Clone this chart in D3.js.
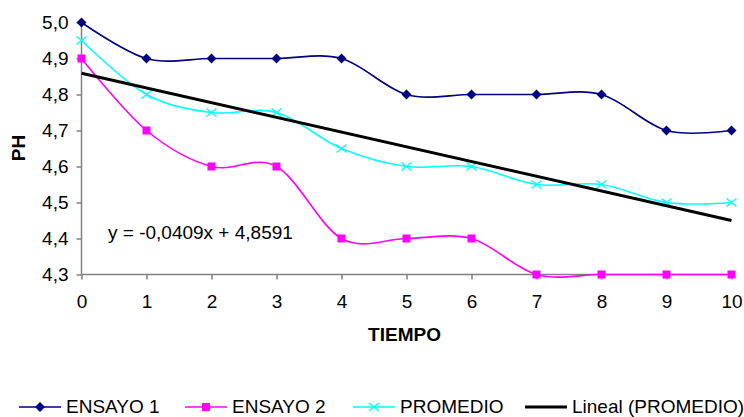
<!DOCTYPE html>
<html><head><meta charset="utf-8">
<script src="https://cdn.jsdelivr.net/npm/d3@7"></script>
<style>body{margin:0;background:#fff}svg{display:block;font-family:"Liberation Sans",Arial,sans-serif}</style>
</head><body>
<svg id="c" width="744" height="417"></svg>
<script>
const tiempo = [0,1,2,3,4,5,6,7,8,9,10];
const ensayo1 = [5.0,4.9,4.9,4.9,4.9,4.8,4.8,4.8,4.8,4.7,4.7];
const ensayo2 = [4.9,4.7,4.6,4.6,4.4,4.4,4.4,4.3,4.3,4.3,4.3];
const promedio = [4.95,4.8,4.75,4.75,4.65,4.6,4.6,4.55,4.55,4.5,4.5];
const trendSlope = -0.0409, trendIntercept = 4.8591;
const yTicks = [4.3,4.4,4.5,4.6,4.7,4.8,4.9,5.0];
const xTicks = [0,1,2,3,4,5,6,7,8,9,10];
const seriesNames = ["ENSAYO 1","ENSAYO 2","PROMEDIO","Lineal (PROMEDIO)"];

const FS = 19;
const svg = d3.select("#c");
const x = d3.scaleLinear().domain([0,10]).range([81.5,731.5]);
const y = d3.scaleLinear().domain([4.3,5.0]).range([274.5,22.5]);
const fmt = v => v.toFixed(1).replace(".", ",");

// axes
const ya = svg.append("g").attr("transform","translate(81.5,0)")
  .call(d3.axisLeft(y).tickValues(yTicks).tickFormat(fmt).tickSize(5).tickPadding(8));
const xa = svg.append("g").attr("transform","translate(0,274.5)")
  .call(d3.axisBottom(x).tickValues(xTicks).tickFormat(d=>d).tickSize(5));
[ya,xa].forEach(a=>{
  a.selectAll("path.domain").attr("stroke","#808080").attr("stroke-width",1.5);
  a.selectAll(".tick line").attr("stroke","#808080").attr("stroke-width",1.5);
  a.selectAll("text").attr("font-size",FS).attr("fill","#000").attr("font-family","Liberation Sans, Arial, sans-serif");
});
xa.selectAll(".tick text").attr("y",33.5).attr("dy",0);
ya.select("path.domain").attr("d","M0,22.5V274.5");
xa.select("path.domain").attr("d","M81.5,0H731.5");

const line = d3.line().x((d,i)=>x(tiempo[i])).y(d=>y(d)).curve(d3.curveCardinal.tension(0));

function drawSeries(vals,color,marker){
  svg.append("path").datum(vals).attr("d",line).attr("fill","none")
    .attr("stroke",color).attr("stroke-width",1.6);
  vals.forEach((v,i)=>drawMarker(x(tiempo[i]),y(v),color,marker));
}
function drawMarker(cx,cy,color,marker){
  if(marker==="diamond"){
    svg.append("path").attr("d",`M${cx},${cy-5}L${cx+5},${cy}L${cx},${cy+5}L${cx-5},${cy}Z`).attr("fill",color);
  } else if(marker==="square"){
    svg.append("rect").attr("x",cx-4).attr("y",cy-4).attr("width",8).attr("height",8).attr("fill",color);
  } else if(marker==="x"){
    svg.append("path").attr("d",`M${cx-5},${cy-4}L${cx+5},${cy+4}M${cx-5},${cy+4}L${cx+5},${cy-4}`)
      .attr("stroke",color).attr("stroke-width",1.5);
  }
}
drawSeries(ensayo1,"#000080","diamond");
drawSeries(ensayo2,"#FF00FF","square");
drawSeries(promedio,"#00FFFF","x");

// trend
svg.append("line").attr("x1",x(0)).attr("y1",y(trendIntercept))
  .attr("x2",x(10)).attr("y2",y(trendIntercept+trendSlope*10))
  .attr("stroke","#000").attr("stroke-width",3);

svg.append("text").attr("x",108).attr("y",239).attr("font-size",FS)
  .text("y = -0,0409x + 4,8591");

// axis titles
svg.append("text").attr("transform","translate(25,148) rotate(-90)").attr("text-anchor","middle")
  .attr("font-size",FS).attr("font-weight","bold").text("PH");
svg.append("text").attr("x",404.5).attr("y",341).attr("text-anchor","middle")
  .attr("font-size",FS).attr("font-weight","bold").text("TIEMPO");

// legend
const legX = [19,185,353,525];
const legColors = ["#000080","#FF00FF","#00FFFF","#000"];
const legMarkers = ["diamond","square","x",null];
const ly = 407;
seriesNames.forEach((n,i)=>{
  svg.append("line").attr("x1",legX[i]).attr("x2",legX[i]+42).attr("y1",ly).attr("y2",ly)
    .attr("stroke",legColors[i]).attr("stroke-width",i===3?3:1.6);
  if(legMarkers[i]) drawMarker(legX[i]+21,ly,legColors[i],legMarkers[i]);
  svg.append("text").attr("x",legX[i]+47).attr("y",413).attr("font-size",FS).text(n);
});
</script>
</body></html>
